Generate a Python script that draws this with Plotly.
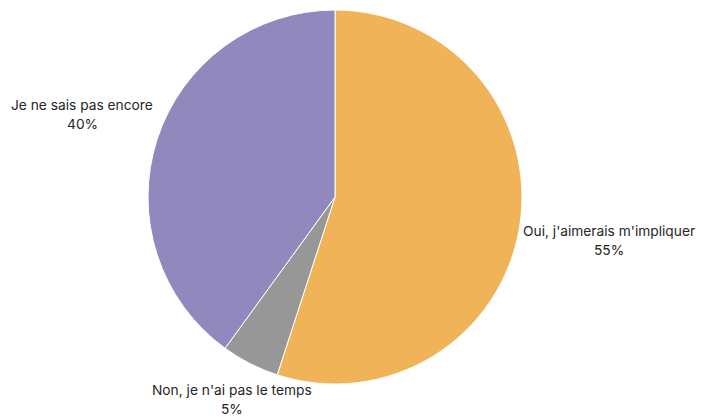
import math
import plotly.graph_objects as go

labels = ["Oui, j'aimerais m'impliquer", "Non, je n'ai pas le temps", "Je ne sais pas encore"]
values = [55, 5, 40]
colors = ["#F0B357", "#979797", "#9189BE"]

# page body has an 8px margin, so the figure is sized to fit the window
W, H = 696, 409
cx, cy, r = 327, 189, 187
label_dist = [277, 227, 266]  # distance of label block centre from pie centre (px)
line_gap = 19

fig = go.Figure(go.Pie(
    labels=labels,
    values=values,
    sort=False,
    direction="clockwise",
    rotation=0,
    marker=dict(colors=colors, line=dict(color="white", width=1)),
    textinfo="none",
    hoverinfo="label+percent",
    domain=dict(x=[(cx - r) / W, (cx + r) / W], y=[1 - (cy + r) / H, 1 - (cy - r) / H]),
    showlegend=False,
))

font = dict(family="Inter, Noto Sans, sans-serif", size=13.75, color="#262626")
total = sum(values)
cum = 0
annotations = []
for lab, v, d in zip(labels, values, label_dist):
    mid = (cum + v / 2) / total * 2 * math.pi
    cum += v
    px = cx + d * math.sin(mid)
    py = cy - d * math.cos(mid)
    for txt, dy in ((lab, -line_gap / 2), (f"{round(v / total * 100)}%", line_gap / 2)):
        annotations.append(dict(
            x=px / W, y=1 - (py + dy) / H, xref="paper", yref="paper",
            xanchor="center", yanchor="middle", showarrow=False,
            text=txt, align="center", font=font,
        ))

fig.update_layout(
    width=W, height=H,
    margin=dict(l=0, r=0, t=0, b=0),
    paper_bgcolor="white",
    plot_bgcolor="white",
    annotations=annotations,
)

fig.write_html("out.html")
